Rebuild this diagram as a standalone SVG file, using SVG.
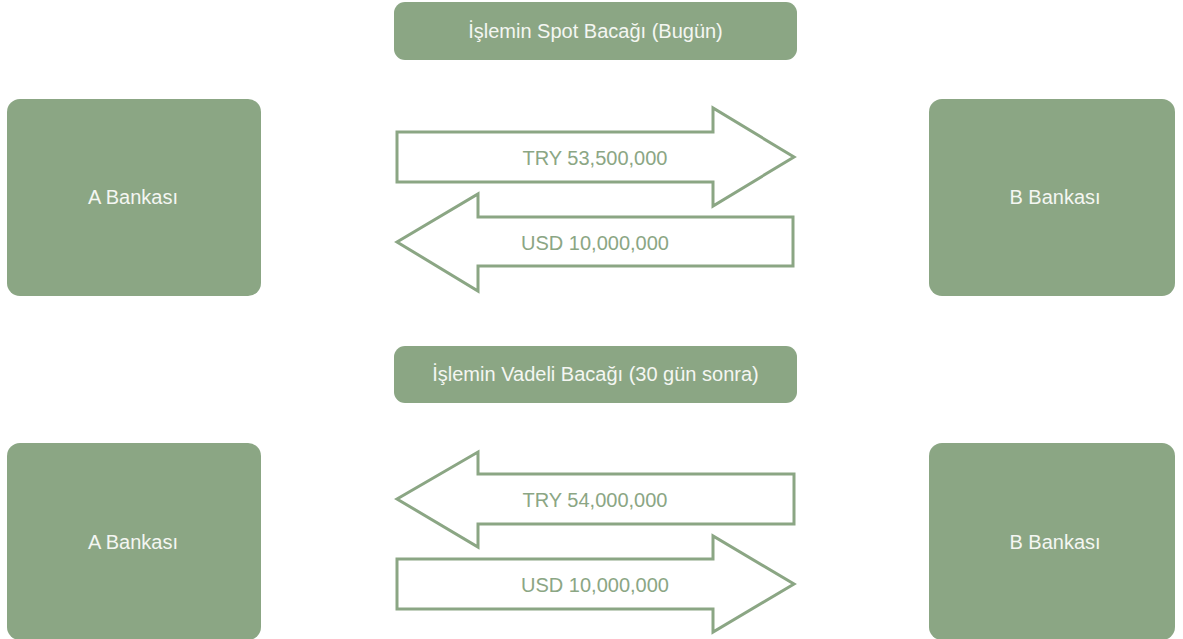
<svg xmlns="http://www.w3.org/2000/svg" width="1183" height="639" viewBox="0 0 1183 639">
  <style>
    .box { fill: #8ba684; }
    .lbl { font-family: "Liberation Sans", Arial, sans-serif; font-size: 20px; fill: #f4f6f2; text-anchor: middle; }
    .arrow { fill: #ffffff; stroke: #8ba684; stroke-width: 3; stroke-linejoin: miter; }
    .albl { font-family: "Liberation Sans", Arial, sans-serif; font-size: 20px; fill: #8ba684; text-anchor: middle; }
  </style>
  <rect width="1183" height="639" fill="#ffffff"/>

  <g id="title-spot">
    <rect class="box" x="394" y="2" width="403" height="58" rx="11"/>
    <text class="lbl" x="595.5" y="38">İşlemin Spot Bacağı (Bugün)</text>
  </g>
  <g id="bank-a-spot">
    <rect class="box" x="7" y="99" width="254" height="197" rx="13"/>
    <text class="lbl" x="133" y="204">A Bankası</text>
  </g>
  <g id="bank-b-spot">
    <rect class="box" x="929" y="99" width="246" height="197" rx="13"/>
    <text class="lbl" x="1055" y="204">B Bankası</text>
  </g>

  <g id="title-forward">
    <rect class="box" x="394" y="346" width="403" height="57" rx="11"/>
    <text class="lbl" x="595.5" y="381">İşlemin Vadeli Bacağı (30 gün sonra)</text>
  </g>
  <g id="bank-a-forward">
    <rect class="box" x="7" y="443" width="254" height="197" rx="13"/>
    <text class="lbl" x="133" y="549">A Bankası</text>
  </g>
  <g id="bank-b-forward">
    <rect class="box" x="929" y="443" width="246" height="197" rx="13"/>
    <text class="lbl" x="1055" y="549">B Bankası</text>
  </g>

  <g id="connectors">
    <g id="arrow-try-spot">
      <polygon class="arrow" points="397,132 713,132 713,108 794,157 713,206 713,182 397,182"/>
      <text class="albl" x="595" y="165">TRY 53,500,000</text>
    </g>
    <g id="arrow-usd-spot">
      <polygon class="arrow" points="793,217 478,217 478,194 397,242 478,291 478,266 793,266"/>
      <text class="albl" x="595" y="250">USD 10,000,000</text>
    </g>
    <g id="arrow-try-forward">
      <polygon class="arrow" points="794,474 478,474 478,452 397,499 478,547 478,524 794,524"/>
      <text class="albl" x="595" y="507">TRY 54,000,000</text>
    </g>
    <g id="arrow-usd-forward">
      <polygon class="arrow" points="397,559 713,559 713,536 794,584 713,632 713,609 397,609"/>
      <text class="albl" x="595" y="592">USD 10,000,000</text>
    </g>
  </g>
</svg>
